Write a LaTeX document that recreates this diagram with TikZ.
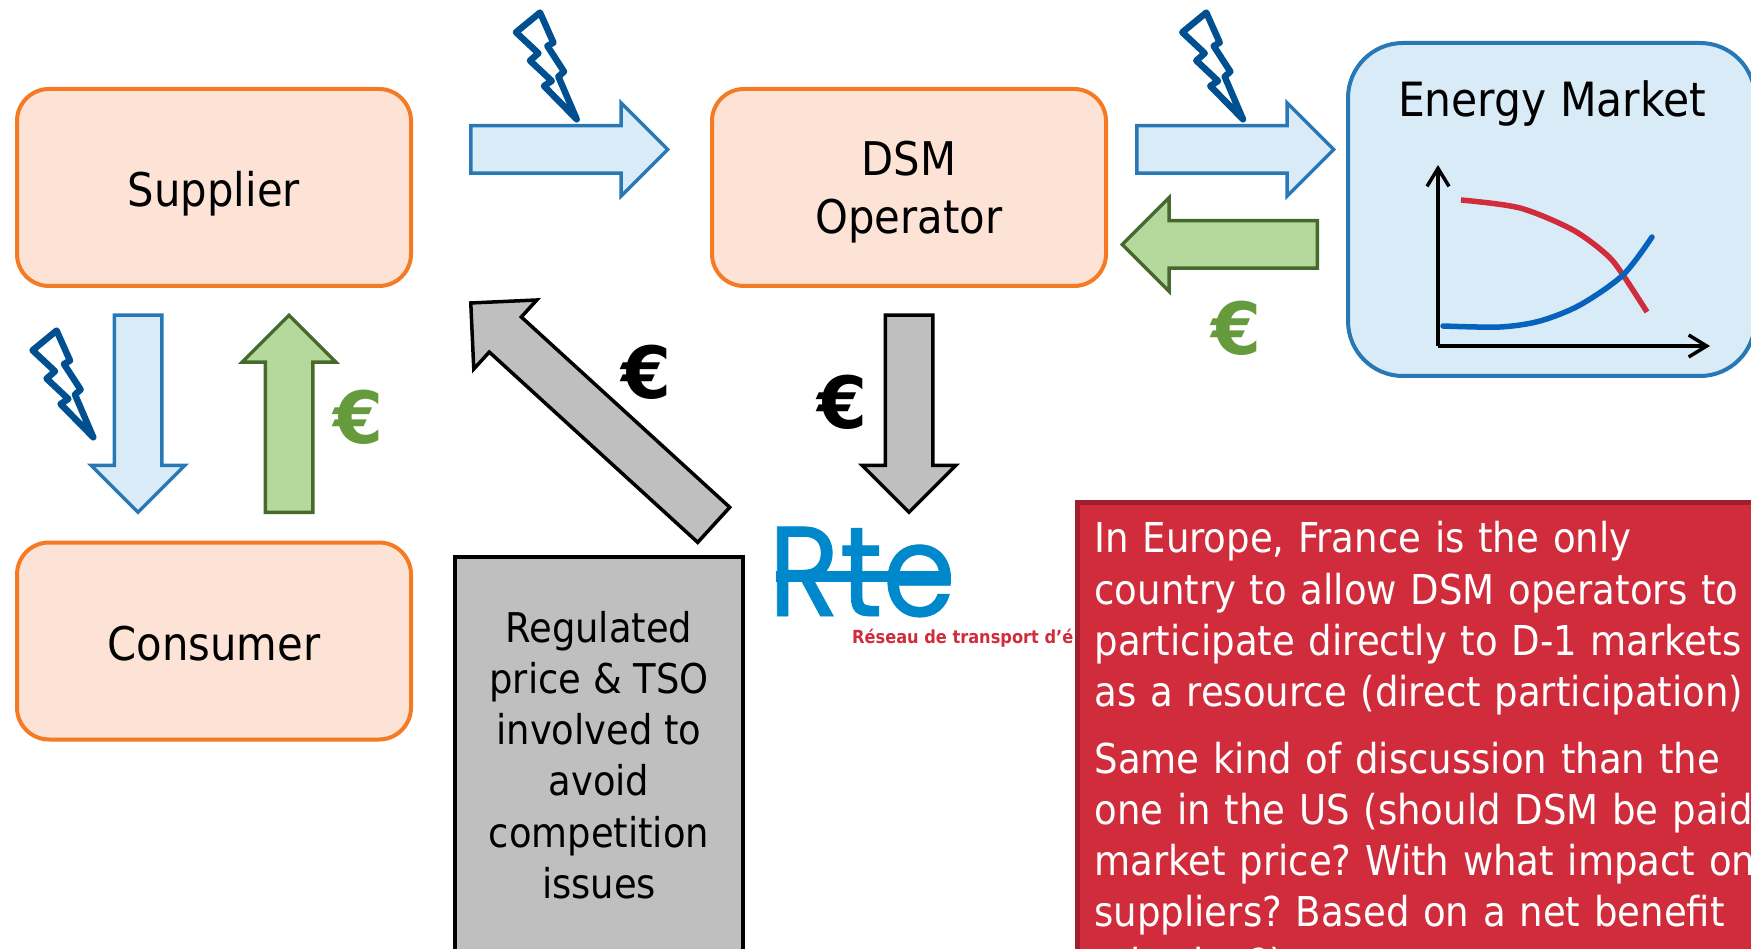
\documentclass[tikz,border=0pt]{standalone}
\usepackage{fontspec}
\setmainfont{DejaVu Sans Condensed}
\newfontfamily\eurofont{DejaVu Sans}
\newfontfamily\logofont[FakeBold=0.6]{Poppins}
\usetikzlibrary{shapes.arrows,arrows.meta}

\definecolor{boxfill}{HTML}{FCE3D5}
\definecolor{boxline}{HTML}{F57A24}
\definecolor{bluefill}{HTML}{DAEBF8}
\definecolor{blueline}{HTML}{2878B5}
\definecolor{greenfill}{HTML}{B5D99C}
\definecolor{greenline}{HTML}{456A2C}
\definecolor{eurogreen}{HTML}{659B3C}
\definecolor{greyfill}{HTML}{BFBFBF}
\definecolor{redfill}{HTML}{D02C3C}
\definecolor{redline}{HTML}{A11F2C}
\definecolor{boltblue}{HTML}{004F91}
\definecolor{curveblue}{HTML}{0563BB}
\definecolor{logoblue}{HTML}{0088CC}

\tikzstyle{actor} = [rectangle, rounded corners=32pt, minimum width=394pt, minimum height=197pt, draw=boxline, fill=boxfill, line width=4pt, align=center, text height=38pt, text depth=0pt, font=\fontsize{46.4}{58}\selectfont]
\tikzstyle{market} = [rectangle, rounded corners=55pt, minimum width=407pt, minimum height=333pt, draw=blueline, fill=bluefill, line width=4pt]
\tikzstyle{flow} = [single arrow, anchor=tail, minimum height=197pt, single arrow head extend=23pt, inner xsep=0pt, inner ysep=22pt, line width=3.5pt]
\tikzstyle{power} = [flow, draw=blueline, fill=bluefill]
\tikzstyle{money} = [flow, draw=greenline, fill=greenfill]
\tikzstyle{payment} = [flow, draw=black, fill=greyfill]
\tikzstyle{euro} = [inner sep=0pt, font=\eurofont\bfseries\fontsize{72}{72}\selectfont]
\tikzstyle{boltline} = [draw=boltblue, line width=6.5pt, line join=round, line cap=round]
\tikzstyle{axis} = [line width=3.5pt, -{Straight Barb[length=18pt,width=22pt]}]
\tikzstyle{curve} = [line width=5.5pt, line cap=round]

\newcommand{\bolt}[1]{\draw [boltline, shift={(#1)}] (-36.7,-106.7) -- (-60.7,-87) -- (-38.3,-66) -- (-46.7,-58.7) -- (-25,-38.3) -- (-32.7,-33.3) -- (0,0) -- (-18.3,-42.7) -- (-12.7,-47.7) -- (-29.3,-73.3) -- (-23.3,-76.7) -- cycle;}

\begin{document}
\begin{tikzpicture}[x=1pt, y=-1pt]

\useasboundingbox (0,0) rectangle (1751,949);
\clip (0,0) rectangle (1751,949);

\node (supplier) [actor] at (214,187.5) {Supplier};
\node (dsm) [actor, text height=92pt] at (909,187.5) {DSM\\Operator};
\node (consumer) [actor] at (214,641) {Consumer};
\node (energy) [market] at (1551.5,209.5) {};
\node (energytitle) [font=\fontsize{47.2}{58}\selectfont] at (1552,103) {Energy Market};

\node (supplytodsm) [power] at (469,149.5) {};
\node (dsmtomarket) [power] at (1135,149.5) {};
\node (markettodsm) [money, rotate=180, minimum height=195pt] at (1319,244.5) {};
\node (supplytoconsumer) [power, rotate=-90] at (138,313.5) {};
\node (consumertosupply) [money, rotate=90] at (289,514) {};
\node (rtetodsm) [payment, rotate=-90] at (909,313.5) {};
\node (rtetosupply) [payment, rotate=137.6, minimum height=329pt] at (715,526) {};

\bolt{576.7,119.3}
\bolt{1243,119.3}
\bolt{93.3,437.3}

\node (euromarket) [euro, text=eurogreen] at (1237,328) {€};
\node (euroconsumer) [euro, text=eurogreen] at (359,417) {€};
\node (eurosupply) [euro] at (647,372) {€};
\node (eurodsm) [euro] at (843,402) {€};

\coordinate (origin) at (1438,346);
\coordinate (ytip) at (1438,165);
\coordinate (xtip) at (1710,346);
\draw [axis] (origin) -- (ytip);
\draw [axis] (origin) -- (xtip);
\draw [curve, redfill, line cap=butt] plot [smooth] coordinates {(1461,200) (1520,208) (1573,230) (1607,255) (1623,275) (1647,312)};
\draw [curve, curveblue] plot [smooth] coordinates {(1443,326) (1500,327) (1540,321) (1580,305) (1623,275) (1652,237)};

\node (rulebox) [rectangle, minimum width=288pt, minimum height=396pt, draw=black, fill=greyfill, line width=3.5pt, align=center, font=\fontsize{41}{51.3}\selectfont] at (599,755) {Regulated\\price \& TSO\\involved to\\avoid\\competition\\issues};

\node (rtelogo) [anchor=base west, inner sep=0pt, xscale=0.92, text=logoblue, font=\logofont\fontsize{128}{128}\selectfont] at (768,616) {Rte};
\coordinate (barstart) at (776,576);
\coordinate (barend) at (950,576);
\draw [logoblue, line width=11pt] (barstart) -- (barend);
\node (rtetag) [anchor=base west, inner sep=0pt, text=redfill, font=\bfseries\fontsize{18}{18}\selectfont] at (852,643) {Réseau de transport d'é};

\node (notebox) [anchor=north west, rectangle, text width=700pt, draw=redline, fill=redfill, line width=5pt, text=white, inner xsep=17.5pt, inner ysep=19pt, align=left, font=\fontsize{41.2}{51.3}\selectfont\frenchspacing] at (1074.5,500) {In Europe, France is the only\\country to allow DSM operators to\\participate directly to D-1 markets\\as a resource (direct participation)\\[15pt]Same kind of discussion than the\\one in the US (should DSM be paid\\market price? With what impact on\\suppliers? Based on a net benefit\\criterion?)};

\end{tikzpicture}
\end{document}
